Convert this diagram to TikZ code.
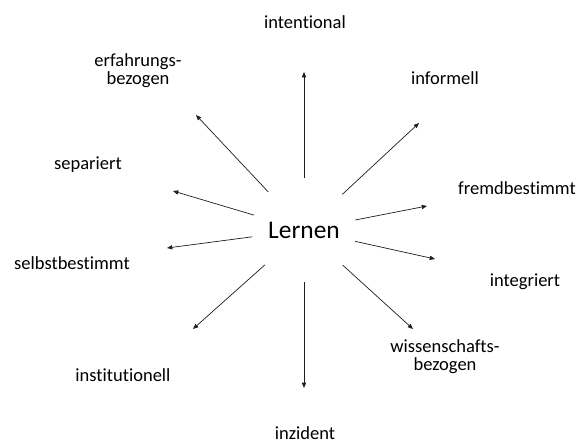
\documentclass[tikz,border=0pt]{standalone}
\usepackage{fontspec}
\setmainfont{Carlito}[Ligatures=NoCommon]
\usetikzlibrary{arrows.meta}
\definecolor{trait}{RGB}{30,30,30}

\begin{document}
\begin{tikzpicture}[x=0.03cm,y=-0.03cm,
  etiquette/.style={align=center,inner sep=0pt,font=\fontsize{15.8}{15.5}\selectfont},
  fleche/.style={-{Triangle[length=4.5pt,width=3.6pt]},trait,line width=0.6pt}]
  \useasboundingbox (0,0) rectangle (579,443);
  % centre
  \node[circle,minimum size=3.12cm,inner sep=0pt,
    font=\fontsize{21.7}{24}\selectfont] (lernen) at (304,230){Lernen};
  % etiquettes
  \node[etiquette] (intentional) at (305,22){intentional};
  \node[etiquette] (erfahrung) at (138,71){erfahrungs-\\bezogen};
  \node[etiquette] (informell) at (445,78){informell};
  \node[etiquette] (separiert) at (88,165){separiert};
  \node[etiquette] (selbst) at (72,263){selbstbestimmt};
  \node[etiquette] (fremd) at (517,188){fremdbestimmt};
  \node[etiquette] (integriert) at (525,282){integriert};
  \node[etiquette] (institution) at (123,375){institutionell};
  \node[etiquette] (wissen) at (445,357){wissenschafts-\\bezogen};
  \node[etiquette] (inzident) at (305,433){inzident};
  % pointes
  \coordinate (pIntentional) at (304,72);
  \coordinate (pInzident) at (304,388);
  \coordinate (pErfahrung) at (196,115);
  \coordinate (pInformell) at (419,123);
  \coordinate (pSepariert) at (173,191);
  \coordinate (pSelbst) at (167,248);
  \coordinate (pInstitution) at (193,329);
  \coordinate (pFremd) at (427,206);
  \coordinate (pIntegriert) at (435,259);
  \coordinate (pWissen) at (413,329);
  % fleches
  \draw[fleche](lernen)--(pIntentional);
  \draw[fleche](lernen)--(pInzident);
  \draw[fleche](lernen)--(pErfahrung);
  \draw[fleche](lernen)--(pInformell);
  \draw[fleche](lernen)--(pSepariert);
  \draw[fleche](lernen)--(pSelbst);
  \draw[fleche](lernen)--(pInstitution);
  \draw[fleche](lernen)--(pFremd);
  \draw[fleche](lernen)--(pIntegriert);
  \draw[fleche](lernen)--(pWissen);
\end{tikzpicture}
\end{document}
